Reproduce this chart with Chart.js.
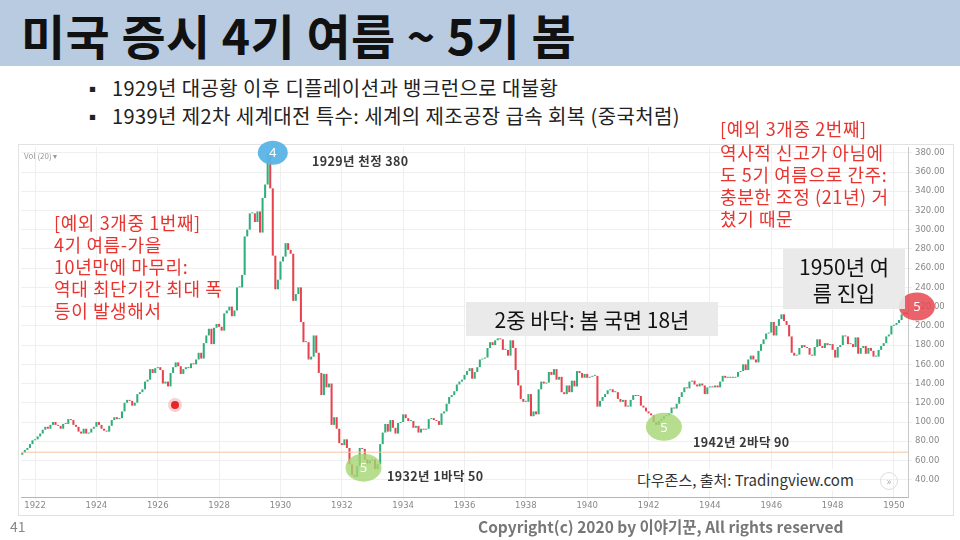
<!DOCTYPE html>
<html>
<head>
<meta charset="utf-8">
<script src="https://cdn.jsdelivr.net/npm/chart.js@4.4.0/dist/chart.umd.min.js"></script>
<style>
  body { margin: 0; background: #fff; }
  #slide { position: relative; width: 960px; height: 540px; overflow: hidden; background: #fff;
    font-family: "Noto Sans CJK KR", "Noto Sans", sans-serif; }
  #band { position: absolute; left: 0; top: 0; width: 960px; height: 66px; background: #b9cbe0; }
  #chartBox { position: absolute; left: 18px; top: 144px; width: 934px; height: 370px; border: 1px solid #e2e2e2; background: #fff; }
  canvas { position: absolute; left: 0; top: 0; }
  .t { position: absolute; white-space: nowrap; }
  .red { color: #e8332f; font-size: 18px; line-height: 22px; letter-spacing: 0.6px; }
  .gray-box { position: absolute; background: rgba(232,232,232,0.92); color: #111; font-size: 21px; text-align: center; }
  .note { color: #3a3a3a; font-size: 12.5px; font-weight: 700; letter-spacing: 0.4px; }
</style>
</head>
<body>
<div id="slide">
  <div id="band"></div>
  <div class="t" style="left:21px;top:3px;font-size:48px;font-weight:700;line-height:62px;color:#111;letter-spacing:0.4px;">미국 증시 4기 여름 ~ 5기 봄</div>
  <div class="t" style="left:83px;top:76px;font-size:19px;line-height:26px;color:#222;">▪</div>
  <div class="t" style="left:112px;top:75px;font-size:20px;line-height:26px;color:#222;letter-spacing:0.4px;">1929년 대공황 이후 디플레이션과 뱅크런으로 대불황</div>
  <div class="t" style="left:83px;top:104px;font-size:19px;line-height:26px;color:#222;">▪</div>
  <div class="t" style="left:112px;top:103px;font-size:20px;line-height:26px;color:#222;letter-spacing:0.4px;">1939년 제2차 세계대전 특수: 세계의 제조공장 급속 회복 (중국처럼)</div>

  <div id="chartBox"></div>
  <canvas id="chart" width="960" height="540"></canvas>

  <div class="t" style="left:24px;top:150px;font-size:8px;color:#999;">Vol (20) ▾</div>
  <div class="t note" style="left:312px;top:151px;">1929년 천정 380</div>
  <div class="t note" style="left:387px;top:466px;">1932년 1바닥 50</div>
  <div class="t note" style="left:693px;top:432px;">1942년 2바닥 90</div>

  <div class="t red" style="left:54px;top:211px;">[예외 3개중 1번째]<br>4기 여름-가을<br>10년만에 마무리:<br>역대 최단기간 최대 폭<br>등이 발생해서</div>
  <div class="t red" style="left:720px;top:117px;">[예외 3개중 2번째]</div>
  <div class="t red" style="left:720px;top:141px;">역사적 신고가 아님에<br>도 5기 여름으로 간주:<br>충분한 조정 (21년) 거<br>쳤기 때문</div>

  <div class="gray-box" style="left:466px;top:302px;width:252px;height:34px;line-height:34px;">2중 바닥: 봄 국면 18년</div>
  <div class="gray-box" style="left:783px;top:249px;width:122px;height:60px;line-height:26px;padding-top:4px;box-sizing:border-box;">1950년 여<br>름 진입</div>

  <div class="t" style="left:637px;top:469px;font-size:15px;color:#333;background:#fff;">다우존스, 출처: Tradingview.com</div>
  <div class="t" style="left:880px;top:472px;width:16px;height:16px;border:1px solid #ddd;border-radius:50%;font-size:10px;line-height:16px;text-align:center;color:#aaa;">»</div>
  <div class="t" style="left:171px;top:401px;width:8px;height:8px;border-radius:50%;background:#e3262c;box-shadow:0 0 0 3px rgba(240,120,120,0.35);"></div>

  <div class="t" style="left:10px;top:516px;font-size:14px;color:#888;">41</div>
  <div class="t" style="left:478px;top:515px;font-size:15.5px;font-weight:700;color:#777;">Copyright(c) 2020 by 이야기꾼, All rights reserved</div>
</div>

<script>
// Dow Jones monthly closes, Aug 1921 .. Jun 1950
const startYear = 1921;
const startMonth = 8;
const firstOpen = 66;
const closes = [
  68, 71, 73, 77, 81,                                   // 1921 (Aug-Dec)
  82, 85, 88, 92, 95, 93, 97, 100, 97, 96, 93, 98,      // 1922
  98, 103, 102, 97, 95, 90, 88, 93, 88, 89, 93, 95,     // 1923
  100, 97, 93, 91, 90, 96, 102, 105, 103, 104, 111, 120,// 1924
  123, 122, 117, 120, 129, 131, 134, 142, 144, 155, 151, 156, // 1925
  157, 154, 140, 142, 137, 151, 157, 162, 158, 150, 155, 157, // 1926
  156, 161, 160, 165, 172, 166, 182, 190, 197, 181, 198, 202, // 1927
  199, 195, 213, 216, 220, 210, 216, 240, 240, 253, 293, 300, // 1928
  317, 317, 308, 319, 297, 333, 347, 380, 343, 273, 238, 248, // 1929
  267, 272, 286, 279, 275, 226, 233, 240, 204, 183, 183, 165, // 1930
  168, 190, 172, 151, 128, 150, 136, 140, 97, 105, 93, 78,    // 1931
  76, 82, 73, 56, 45, 43, 54, 73, 72, 61, 57, 60,             // 1932
  61, 51, 56, 77, 89, 98, 90, 102, 94, 88, 99, 100,           // 1933
  108, 104, 101, 101, 94, 96, 89, 93, 92, 93, 103, 104,       // 1934
  102, 101, 97, 109, 111, 119, 126, 128, 132, 139, 142, 144,  // 1935
  149, 153, 156, 145, 152, 157, 165, 166, 167, 177, 183, 180, // 1936
  185, 187, 186, 175, 175, 169, 185, 177, 154, 138, 124, 121, // 1937
  121, 129, 106, 111, 108, 134, 142, 140, 141, 152, 149, 155, // 1938
  144, 147, 131, 129, 138, 131, 143, 137, 153, 151, 146, 150, // 1939
  146, 147, 148, 148, 116, 122, 126, 129, 133, 134, 131, 131, // 1940
  124, 121, 123, 116, 116, 123, 128, 127, 127, 117, 115, 111, // 1941
  109, 107, 100, 97, 101, 103, 106, 107, 109, 115, 114, 119,  // 1942
  126, 131, 136, 135, 142, 143, 139, 137, 140, 138, 129, 136, // 1943
  137, 136, 138, 136, 142, 148, 146, 147, 146, 146, 147, 152, // 1944
  153, 160, 154, 165, 169, 165, 162, 174, 181, 186, 192, 193, // 1945
  204, 190, 200, 207, 212, 205, 201, 189, 172, 169, 170, 177, // 1946
  180, 178, 177, 170, 169, 178, 186, 179, 177, 182, 180, 181, // 1947
  175, 167, 178, 180, 190, 189, 181, 181, 178, 188, 171, 177, // 1948
  179, 171, 177, 174, 168, 168, 175, 179, 182, 189, 191, 200, // 1949
  201, 203, 206, 212, 214, 212                                 // 1950 (Jan-Jun)
];
const xTickYears = [1922, 1924, 1926, 1928, 1930, 1932, 1934, 1936, 1938, 1940, 1942, 1944, 1946, 1948, 1950];
const yTicks = [40, 60, 80, 100, 120, 140, 160, 180, 200, 220, 240, 260, 280, 300, 320, 340, 360, 380];
const baseLevel = 68.6;

const labels = closes.map((c, i) => {
  const m = startMonth - 1 + i;
  const y = startYear + Math.floor(m / 12);
  return y + "-" + String((m % 12) + 1).padStart(2, "0");
});
const opens = closes.map((c, i) => (i === 0 ? firstOpen : closes[i - 1]));
const bodies = closes.map((c, i) => [opens[i], c]);
const colors = closes.map((c, i) => (c >= opens[i] ? "#2fae7a" : "#e8424f"));

// cycle markers drawn on top of the candles
const markerPlugin = {
  id: "markers",
  afterDraw(chart) {
    const { ctx, scales } = chart;
    const base = scales.y.getPixelForValue(baseLevel);
    ctx.save();
    ctx.strokeStyle = "#f4c6a4";
    ctx.lineWidth = 1;
    ctx.beginPath();
    ctx.moveTo(chart.chartArea.left, base);
    ctx.lineTo(chart.chartArea.right, base);
    ctx.stroke();

    const marks = [
      { t: "4", i: 98, v: 380, rx: 15, ry: 12, c: "rgba(88,180,230,0.95)" },
      { t: "5", i: 133.5, v: 52.5, rx: 18, ry: 14, c: "rgba(165,212,115,0.8)" },
      { t: "5", i: 251, v: 95, rx: 18, ry: 14, c: "rgba(165,212,115,0.8)" },
      { t: "5", i: 350, v: 220, rx: 18, ry: 14, c: "rgba(232,72,80,0.85)" },
    ];
    marks.forEach((m) => {
      const x = scales.x.getPixelForValue(m.i);
      const y = scales.y.getPixelForValue(m.v);
      ctx.fillStyle = m.c;
      ctx.beginPath();
      ctx.ellipse(x, y, m.rx, m.ry, 0, 0, Math.PI * 2);
      ctx.fill();
      ctx.fillStyle = "#fff";
      ctx.font = "13px 'Noto Sans'";
      ctx.textAlign = "center";
      ctx.textBaseline = "middle";
      ctx.fillText(m.t, x, y + 1);
    });
    ctx.restore();
  },
};

const ctx = document.getElementById("chart").getContext("2d");
new Chart(ctx, {
  type: "bar",
  data: {
    labels: labels,
    datasets: [
      {
        data: bodies,
        backgroundColor: colors,
        borderWidth: 0,
        categoryPercentage: 1,
        barPercentage: 0.8,
        minBarLength: 1,
      },
    ],
  },
  options: {
    responsive: false,
    animation: false,
    layout: { padding: { left: 21, top: 147, right: 8, bottom: 27 } },
    plugins: { legend: { display: false }, tooltip: { enabled: false } },
    scales: {
      x: {
        offset: true,
        grid: { color: "#efefef", offset: false, drawTicks: true, tickLength: 3 },
        border: { color: "#b5b5b5" },
        ticks: {
          autoSkip: false,
          maxRotation: 0,
          padding: 1,
          color: "#888",
          font: { size: 8.5, family: "'DejaVu Sans'" },
          callback: (val, i) => {
            const [y, m] = labels[i].split("-").map(Number);
            return m === 1 && xTickYears.includes(y) ? String(y) : null;
          },
        },
        afterFit: (s) => { s.height = 16; },
      },
      y: {
        position: "right",
        min: 22,
        max: 386,
        afterBuildTicks: (s) => { s.ticks = yTicks.map((v) => ({ value: v })); },
        grid: { color: "#efefef", tickLength: 4 },
        border: { color: "#c8c8c8" },
        ticks: {
          padding: 3,
          color: "#888",
          font: { size: 8.5, family: "'DejaVu Sans'" },
          callback: (v) => Number(v).toFixed(2),
        },
        afterFit: (s) => { s.width = 44; },
      },
    },
  },
  plugins: [markerPlugin],
});
</script>
</body>
</html>
